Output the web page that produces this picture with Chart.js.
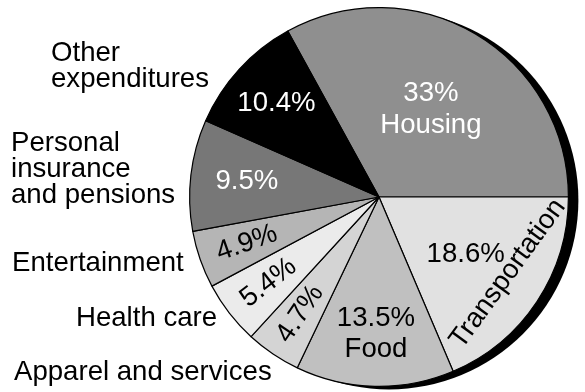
<!DOCTYPE html>
<html>
<head>
<meta charset="utf-8">
<script src="https://cdn.jsdelivr.net/npm/chart.js@4/dist/chart.umd.min.js"></script>
<style>
  html, body { margin: 0; padding: 0; background: #fff; }
  #wrap { width: 585px; height: 392px; }
</style>
</head>
<body>
<div id="wrap"><canvas id="c" width="585" height="392"></canvas></div>
<script>
// ---- data ----
const categories = ['Housing', 'Transportation', 'Food', 'Apparel and services', 'Health care', 'Entertainment', 'Personal insurance and pensions', 'Other expenditures'];
const shares = [33, 18.6, 13.5, 4.7, 5.4, 4.9, 9.5, 10.4];
const pctLabels = ['33%', '18.6%', '13.5%', '4.7%', '5.4%', '4.9%', '9.5%', '10.4%'];
const innerNames = ['Housing', 'Transportation', 'Food', '', '', '', '', ''];
const outerLabels = [
  { lines: ['Other', 'expenditures'], x: 51, y: 61 },
  { lines: ['Personal', 'insurance', 'and pensions'], x: 11, y: 150.5 },
  { lines: ['Entertainment'], x: 12, y: 270.5 },
  { lines: ['Health care'], x: 76, y: 326 },
  { lines: ['Apparel and services'], x: 14, y: 379.5 }
];

// ---- styles ----
const sliceColors = ['#8f8f8f', '#e1e1e1', '#c0c0c0', '#d4d4d4', '#ebebeb', '#b5b5b5', '#777777', '#000000'];
const FONT = '27.6px "Liberation Sans", Arial, sans-serif';
const LINE = 31.5;
// per slice label layout: radius (px), rotate mode, text color
const labelStyle = [
  { r: 102, rot: null, color: '#ffffff' },
  { r: 104, rot: null, color: '#000000' },
  { r: 137, rot: null, color: '#000000' },
  { r: 141, rot: 'radial', color: '#000000' },
  { r: 140, rot: 'radial', color: '#000000' },
  { r: 140, rot: 'radial', color: '#000000' },
  { r: 133, rot: null, color: '#ffffff' },
  { r: 139, rot: null, color: '#ffffff' }
];
const transportStyle = { r: 150, dAngle: -2.7, rotDeg: -54 };

const shadowPlugin = {
  id: 'shadow',
  beforeDatasetsDraw(chart) {
    const arc = chart.getDatasetMeta(0).data[0];
    if (!arc) return;
    const ctx = chart.ctx;
    ctx.save();
    ctx.fillStyle = '#000';
    ctx.beginPath();
    ctx.arc(arc.x + 10, arc.y + 3, arc.outerRadius, 0, Math.PI * 2);
    ctx.fill();
    ctx.restore();
  }
};

const labelPlugin = {
  id: 'labels',
  afterDatasetsDraw(chart) {
    const ctx = chart.ctx;
    const arcs = chart.getDatasetMeta(0).data;
    ctx.save();
    ctx.font = FONT;
    ctx.textAlign = 'center';
    ctx.textBaseline = 'middle';
    arcs.forEach((a, i) => {
      const mid = (a.startAngle + a.endAngle) / 2;
      const st = labelStyle[i];
      const cx = a.x + st.r * Math.cos(mid);
      const cy = a.y + st.r * Math.sin(mid);
      ctx.fillStyle = st.color;
      const lines = [pctLabels[i]];
      if (innerNames[i] && i !== 1) lines.push(innerNames[i]);
      ctx.save();
      ctx.translate(cx, cy);
      if (st.rot === 'radial') ctx.rotate(mid - Math.PI);
      lines.forEach((t, k) => {
        ctx.fillText(t, 0, (k - (lines.length - 1) / 2) * LINE);
      });
      ctx.restore();
      if (i === 1) {
        const ang = mid + transportStyle.dAngle * Math.PI / 180;
        ctx.save();
        ctx.translate(a.x + transportStyle.r * Math.cos(ang), a.y + transportStyle.r * Math.sin(ang));
        ctx.rotate(transportStyle.rotDeg * Math.PI / 180);
        ctx.fillText(innerNames[1], 0, 0);
        ctx.restore();
      }
    });
    // outside labels
    ctx.fillStyle = '#000';
    ctx.textAlign = 'left';
    ctx.textBaseline = 'alphabetic';
    outerLabels.forEach(o => {
      o.lines.forEach((t, k) => ctx.fillText(t, o.x, o.y + k * 26));
    });
    ctx.restore();
  }
};

new Chart(document.getElementById('c'), {
  type: 'pie',
  data: {
    labels: categories,
    datasets: [{
      data: shares,
      backgroundColor: sliceColors,
      borderColor: '#000000',
      borderWidth: 1.2
    }]
  },
  options: {
    responsive: false,
    animation: false,
    rotation: -28.8,
    layout: { padding: { left: 189, right: 16, top: 7, bottom: 5 } },
    plugins: {
      legend: { display: false },
      tooltip: { enabled: false }
    }
  },
  plugins: [shadowPlugin, labelPlugin]
});
</script>
</body>
</html>
